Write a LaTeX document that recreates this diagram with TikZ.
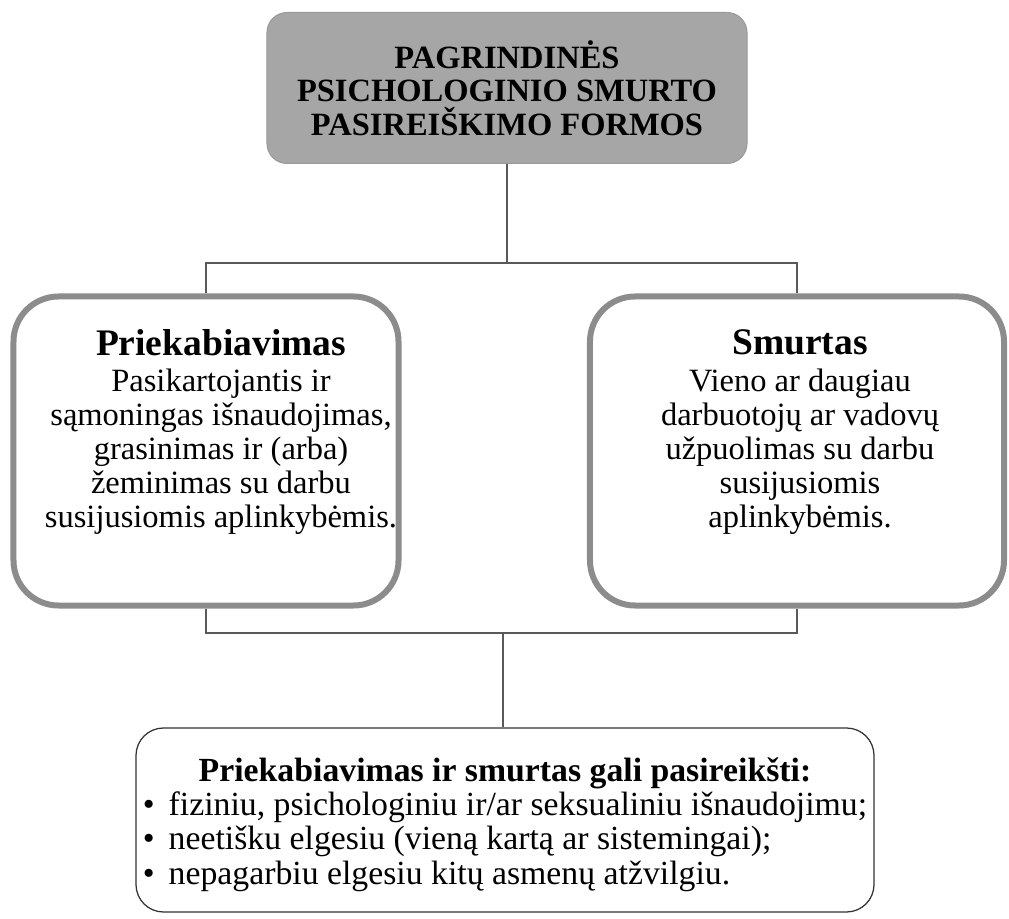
\documentclass[tikz,border=0pt]{standalone}
\usepackage{fontspec}
\setmainfont{Liberation Serif}
\tikzset{
	formbox/.style={draw=black!45,line width=2.4pt,rounded corners=18pt,minimum height=123.6pt},
	formtext/.style={align=center,font=\fontsize{13}{13.6}\selectfont},
	link/.style={draw=black!65,line width=0.6pt},
}

\begin{document}
\begin{tikzpicture}[x=0.4pt,y=-0.4pt]
			% Forms of psychological violence
			\useasboundingbox (0,0) rectangle (1009,919);
			\node[draw=black!40,fill=black!35,rounded corners=8pt,minimum width=192pt,minimum height=60.4pt,align=center,font=\bfseries\fontsize{13}{13.4}\selectfont] (Forms) at (507,88) {PAGRINDINĖS\\PSICHOLOGINIO SMURTO\\PASIREIŠKIMO FORMOS};
			\node[formbox,minimum width=154pt] (Harassment) at (206,451) {};
			\node[formbox,minimum width=165.6pt] (Violence) at (797,451) {};
			\node[formtext] (HarassmentText) at (221,432) {{\bfseries\fontsize{15}{16}\selectfont Priekabiavimas}\\[1pt]Pasikartojantis ir\\sąmoningas išnaudojimas,\\grasinimas ir (arba)\\žeminimas su darbu\\susijusiomis aplinkybėmis.};
			\node[formtext] (ViolenceText) at (800,432) {{\bfseries\fontsize{15}{16}\selectfont Smurtas}\\[1pt]Vieno ar daugiau\\darbuotojų ar vadovų\\užpuolimas su darbu\\susijusiomis\\aplinkybėmis.};
			\node[draw=black!80,line width=0.5pt,rounded corners=11pt,inner xsep=1pt,minimum width=295.2pt,minimum height=73.6pt,font=\fontsize{13.5}{13.7}\selectfont] (Outcomes) at (505,820) {\begin{tabular}{@{}l@{}}
				\multicolumn{1}{@{}c@{}}{\rule{0pt}{14.4pt}\textbf{Priekabiavimas ir smurtas gali pasireikšti:}}\\
				\textbullet\ \,fiziniu, psichologiniu ir/ar seksualiniu išnaudojimu;\\
				\textbullet\ \,neetišku elgesiu (vieną kartą ar sistemingai);\\
				\textbullet\ \,nepagarbiu elgesiu kitų asmenų atžvilgiu.
			\end{tabular}};
			
			\coordinate (Split) at (507,263);
			\coordinate (Join) at (503,633);
			\draw[link] (Forms.south) -- (Split) -| (Harassment.north);
			\draw[link] (Split) -| (Violence.north);
			\draw[link] (Harassment.south) |- (Join) -| (Violence.south);
			\draw[link] (Join) -- (Join |- Outcomes.north);
			
			\end{tikzpicture}
\end{document}
